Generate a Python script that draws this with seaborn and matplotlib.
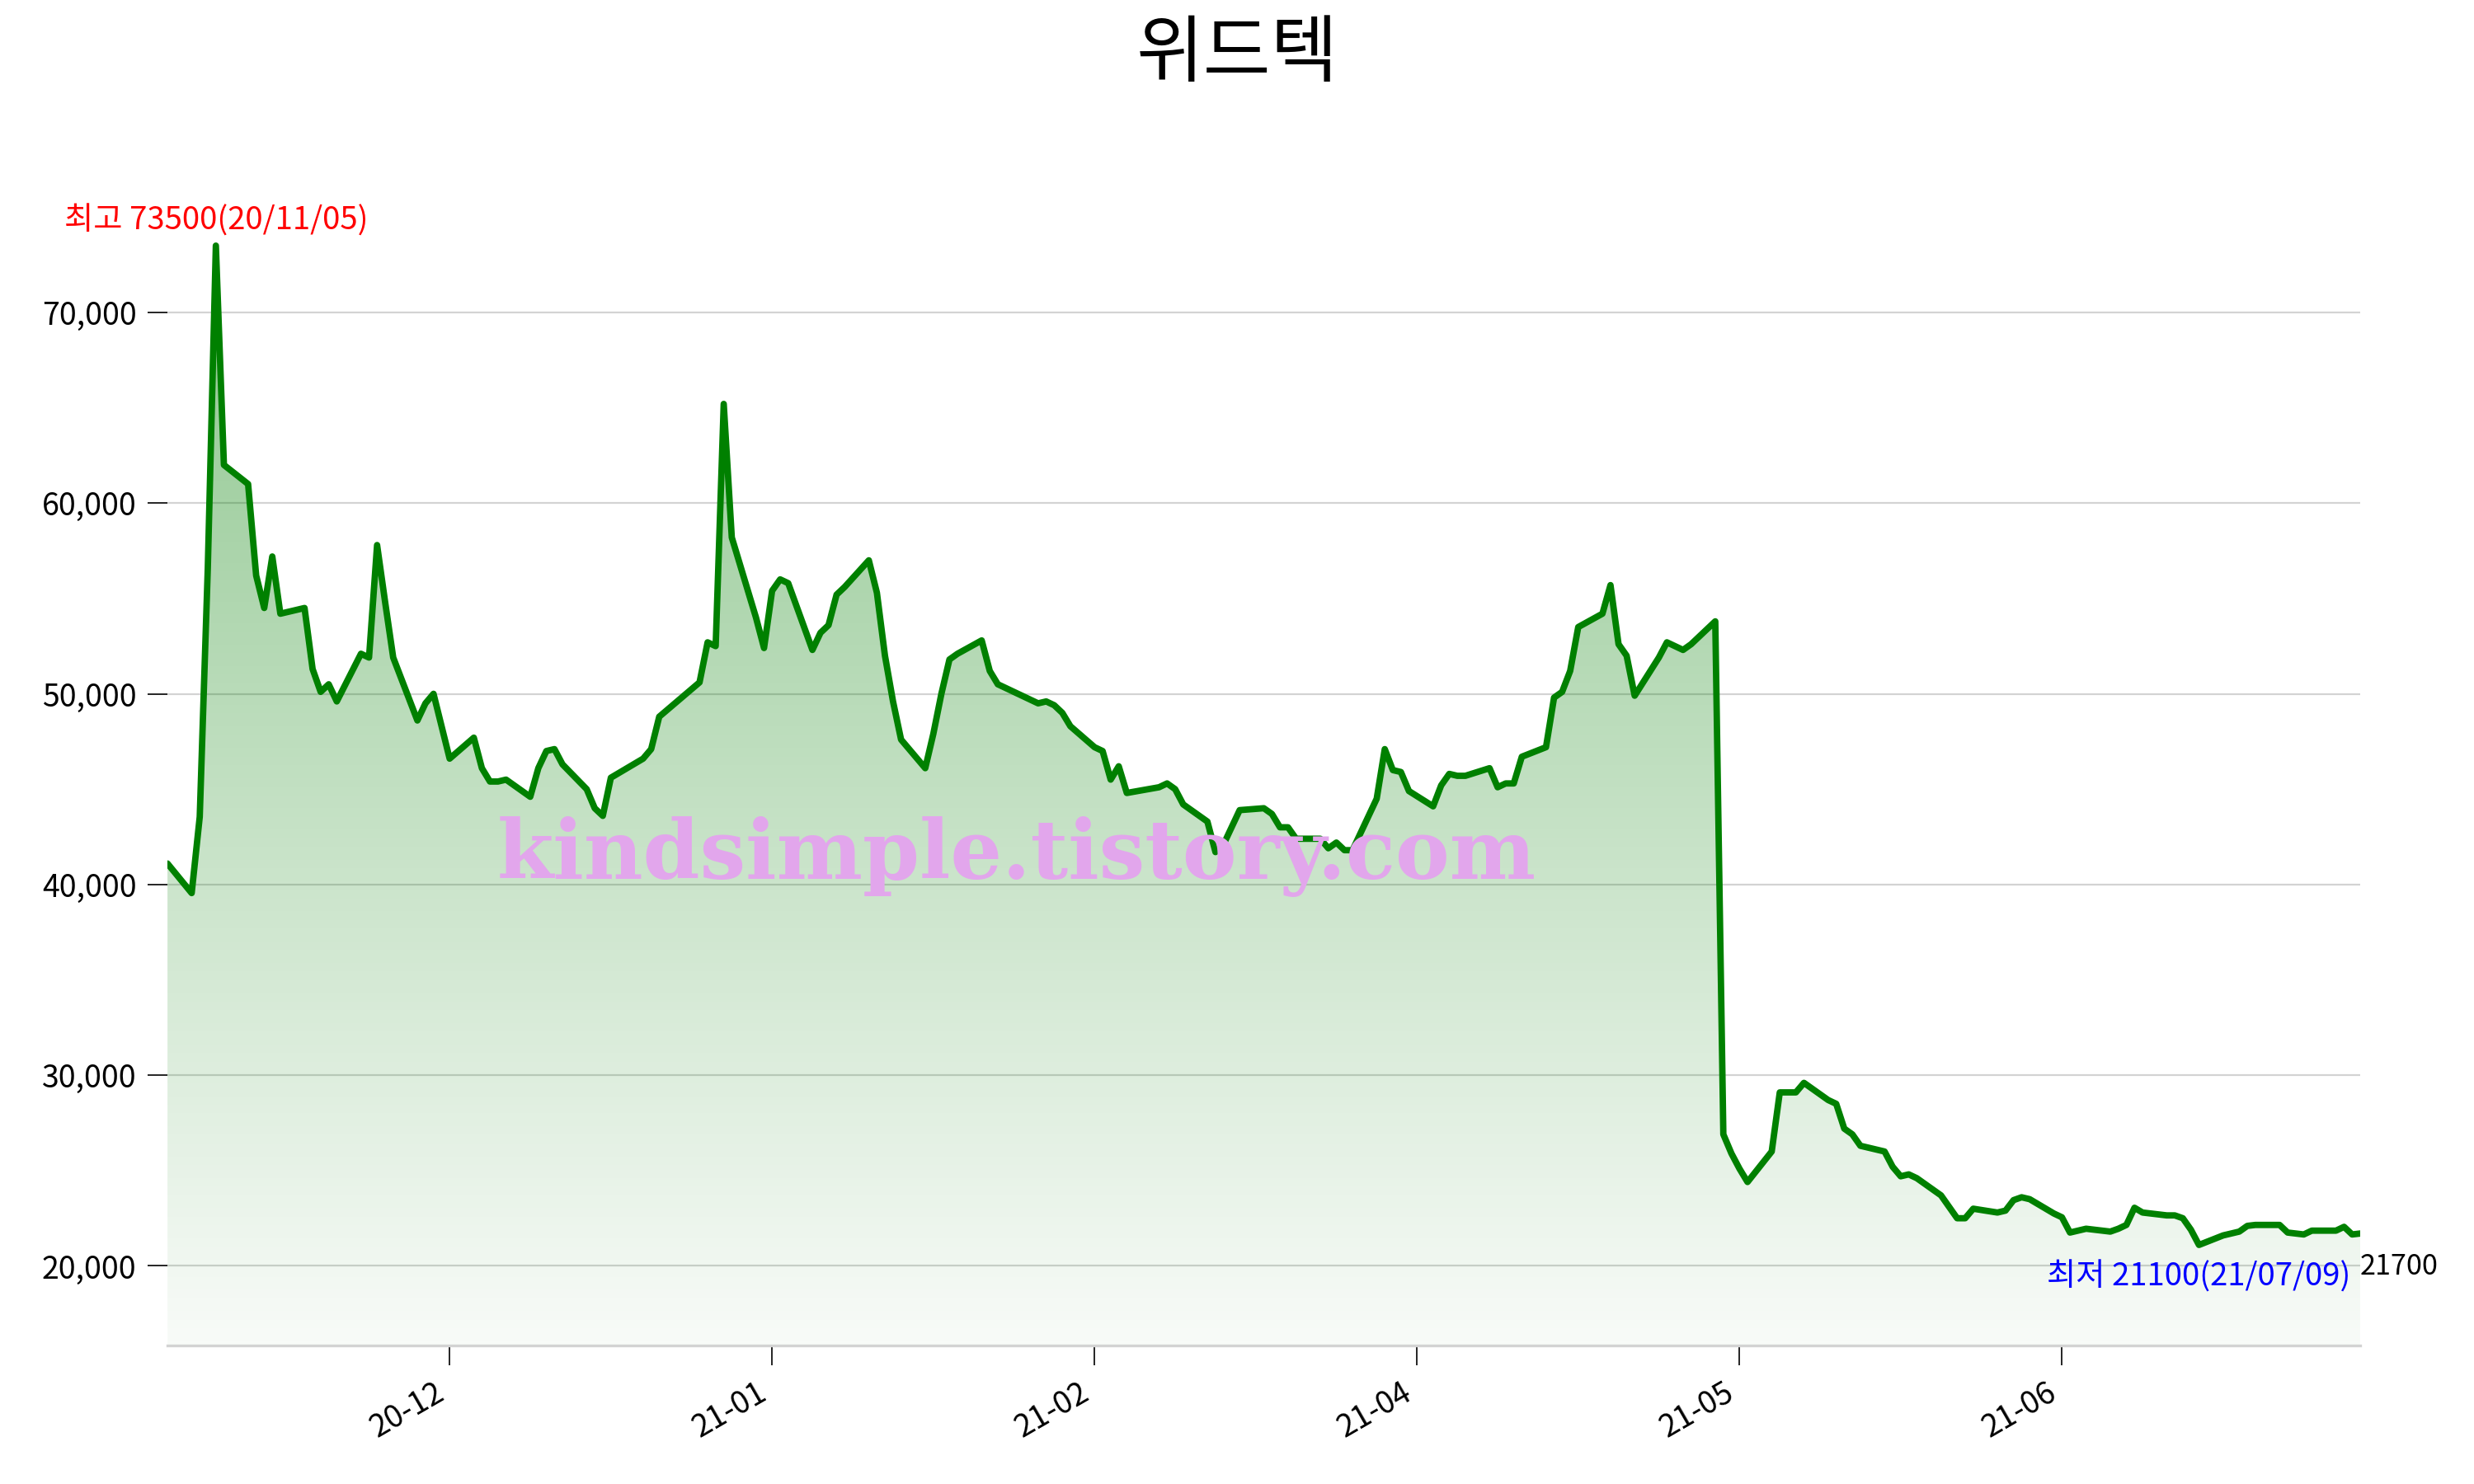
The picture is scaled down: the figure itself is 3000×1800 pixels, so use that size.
import numpy as np
import pandas as pd
import matplotlib
matplotlib.use('Agg')
import matplotlib.pyplot as plt
import matplotlib.dates as mdates
from matplotlib.ticker import MultipleLocator, FuncFormatter
from matplotlib.colors import LinearSegmentedColormap
import seaborn as sns

# chart texts
title = '위드텍'
watermark = 'kindsimple.tistory.com'

# trading calendar (KRX closed days in the range)
start_date = '2020-10-30'
end_date = '2021-07-29'
krx_holidays = ['2020-12-25', '2020-12-31', '2021-01-01', '2021-02-11',
                '2021-02-12', '2021-03-01', '2021-05-05', '2021-05-19']

# daily close prices, one list per month
close_2020_10 = [41100]
close_2020_11 = [39550, 43550, 56600, 73500, 62000, 61000, 56200, 54500, 57200, 54200,
                 54500, 51300, 50100, 50500, 49600, 52100, 51900, 57800, 54800, 51900, 48600]
close_2020_12 = [49500, 50000, 48300, 46600, 47700, 46100, 45400, 45400, 45500, 44600,
                 46100, 47000, 47100, 46300, 45000, 44000, 43600, 45600, 46600, 47100, 48800]
close_2021_01 = [50600, 52700, 52500, 65200, 58200, 54000, 52400, 55400, 56000, 55800,
                 52300, 53200, 53600, 55200, 55600, 57000, 55300, 52000, 49600, 47600]
close_2021_02 = [46100, 47900, 50000, 51800, 52100, 52800, 51200, 50500, 49500, 49600,
                 49400, 49000, 48300, 47200, 47000, 45500, 46200, 44800]
close_2021_03 = [45100, 45300, 45000, 44200, 43300, 41700, 42100, 43000, 43900, 44000,
                 43700, 43000, 43000, 42400, 42400, 41900, 42200, 41800, 41800, 44500, 47100, 46000]
close_2021_04 = [45900, 44900, 44100, 45200, 45800, 45700, 45700, 46100, 45100, 45300,
                 45300, 46700, 47200, 49800, 50100, 51200, 53500, 54200, 55700, 52600, 52000, 49900]
close_2021_05 = [51900, 52700, 52300, 52600, 53800, 26900, 25900, 25100, 24400, 26000,
                 29100, 29100, 29600, 28700, 28500, 27200, 26900, 26300, 26000]
close_2021_06 = [25200, 24700, 24800, 24600, 23700, 23100, 22500, 22500, 23000, 22800,
                 22900, 23450, 23600, 23500, 22750, 22550, 21750, 21850, 21950, 21800, 21950, 22150]
close_2021_07 = [23050, 22800, 22650, 22650, 22500, 21900, 21100, 21600, 21700, 21800,
                 22100, 22150, 22150, 21750, 21700, 21650, 21850, 21850, 22050, 21650, 21700]

sns.set_theme(style='white')
plt.rcParams['font.family'] = ['Noto Sans CJK KR', 'DejaVu Sans']
plt.rcParams['axes.unicode_minus'] = False
plt.rcParams['text.color'] = 'black'

dates = pd.bdate_range(start_date, end_date, freq='C', holidays=krx_holidays)
close = (close_2020_10 + close_2020_11 + close_2020_12 + close_2021_01 + close_2021_02
         + close_2021_03 + close_2021_04 + close_2021_05 + close_2021_06 + close_2021_07)
df = pd.DataFrame({'date': dates, 'close': close})

fig = plt.figure(figsize=(15, 9), dpi=200)
ax = fig.add_axes([0.0677, 0.0933, 0.8863, 0.7884])

hi = df['close'].max()
lo = df['close'].min()
ymin, ymax = lo * 0.75, hi * 1.05

sns.lineplot(data=df, x='date', y='close', ax=ax, color='green', linewidth=2.8, zorder=3)

# gradient fill under the line
poly = ax.fill_between(df['date'], df['close'], ymin, color='none', lw=0)
xnum = mdates.date2num(df['date'])
fade = LinearSegmentedColormap.from_list('fade', [(0, 0.5, 0, 0.03), (0, 0.5, 0, 0.45)])
grad = np.linspace(0, 1, 256).reshape(-1, 1)
im = ax.imshow(grad, extent=[xnum[0], xnum[-1], ymin, hi], origin='lower',
               aspect='auto', cmap=fade, zorder=1)
im.set_clip_path(poly.get_paths()[0], transform=ax.transData)

ax.set_xlim(df['date'].iloc[0], df['date'].iloc[-1])
ax.set_ylim(ymin, ymax)

ax.set_xlabel('')
ax.set_ylabel('')
ax.yaxis.set_major_locator(MultipleLocator(10000))
ax.yaxis.set_major_formatter(FuncFormatter(lambda v, p: f'{v:,.0f}'))
ax.xaxis.set_major_locator(MultipleLocator(40))
ax.xaxis.set_major_formatter(mdates.DateFormatter('%y-%m'))
ax.tick_params(axis='both', labelsize=13.5, colors='black', length=8.5, width=0.6,
               bottom=True, left=True, pad=5)
plt.setp(ax.get_xticklabels(), rotation=30, ha='right')

ax.grid(axis='y', color='lightgray', linewidth=0.8)
ax.grid(axis='x', visible=False)
for side in ['top', 'right', 'left']:
    ax.spines[side].set_visible(False)
ax.spines['bottom'].set_color('lightgray')
ax.spines['bottom'].set_linewidth(1.2)

# max / min / last annotations
imax = df['close'].idxmax()
imin = df['close'].idxmin()
ax.text(df['date'][imax], hi * 1.006,
        f"최고 {hi}({df['date'][imax]:%y/%m/%d})", color='red',
        ha='center', va='bottom', fontsize=13.8)
ax.text(df['date'][imin], lo * 0.96,
        f"최저 {lo}({df['date'][imin]:%y/%m/%d})", color='blue',
        ha='center', va='top', fontsize=13.8)
last = df['close'].iloc[-1]
ax.text(df['date'].iloc[-1], last * 0.92, f'{last}', color='black',
        ha='left', va='center', fontsize=12.3)

fig.suptitle(title, fontsize=32, y=0.963, va='center', color='black')
fig.text(0.411, 0.423, watermark, fontsize=35.5, fontweight='bold', family='DejaVu Serif',
         color='#e2a6ec', ha='center', va='center')

fig.savefig('out.png', dpi=200)
